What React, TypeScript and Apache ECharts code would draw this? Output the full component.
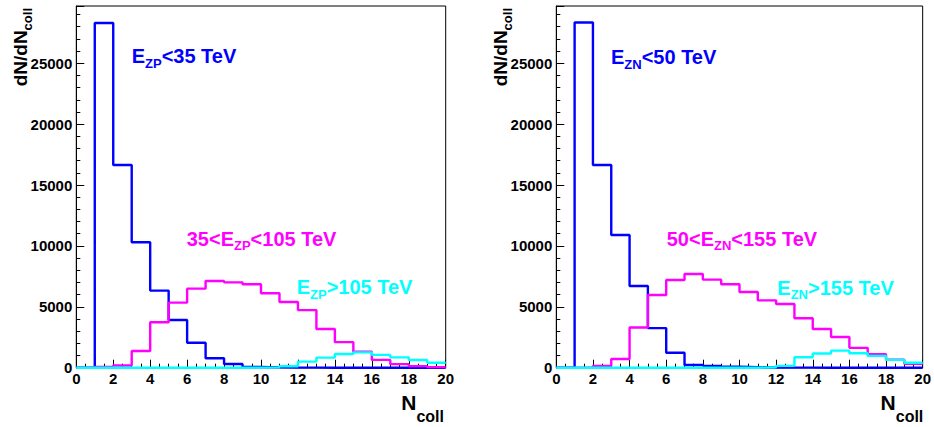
import React, { useEffect, useRef } from "react";
import * as echarts from "echarts";

// ---------- data ----------
const binLowEdges = [0, 1, 2, 3, 4, 5, 6, 7, 8, 9, 10, 11, 12, 13, 14, 15, 16, 17, 18, 19];
const xMax = 20;
const yMax = 29700;
const yTickLabels = [0, 5000, 10000, 15000, 20000, 25000];

// left panel (ZP)
const leftLow = [0, 28300, 16650, 10300, 6330, 3920, 2050, 780, 300, 60, 25, 10, 5, 0, 0, 0, 0, 0, 0, 0];
const leftMid = [0, 60, 180, 1370, 3730, 5340, 6490, 7120, 7010, 6850, 6110, 5390, 4730, 3180, 2100, 1310, 640, 290, 130, 50];
const leftHigh = [0, 0, 0, 0, 0, 0, 0, 0, 0, 10, 30, 120, 500, 830, 1120, 1260, 1050, 850, 630, 410];

// right panel (ZN)
const rightLow = [0, 28350, 16650, 10900, 6710, 3250, 1230, 220, 150, 90, 40, 20, 10, 5, 0, 0, 0, 0, 0, 0];
const rightMid = [0, 0, 150, 720, 3300, 5970, 7200, 7690, 7230, 6850, 6220, 5530, 5230, 4060, 3180, 2520, 1630, 1110, 650, 330];
const rightHigh = [0, 0, 0, 0, 0, 0, 0, 0, 0, 0, 0, 40, 150, 860, 1170, 1400, 1190, 970, 640, 410];

// labels: [before, subscript, after]
const leftNotes = [
  ["E", "ZP", "<35 TeV"],
  ["35<E", "ZP", "<105 TeV"],
  ["E", "ZP", ">105 TeV"],
];
const rightNotes = [
  ["E", "ZN", "<50 TeV"],
  ["50<E", "ZN", "<155 TeV"],
  ["E", "ZN", ">155 TeV"],
];
const colors = ["#0000ff", "#ff00ff", "#00ffff"];
const yTitle = ["dN/dN", "coll"];
const xTitle = ["N", "coll"];

// ---------- helpers ----------
const FF = '"Liberation Sans", Arial, Helvetica, sans-serif';

function toSteps(bins: number[]) {
  const pts = binLowEdges.map((x, i) => [x, bins[i]]);
  pts.push([xMax, bins[bins.length - 1]]);
  return pts;
}

function richText(color: string, mainSize: number, subSize: number, subBox: number) {
  return {
    m: { fontSize: mainSize, fontWeight: "bold", fontFamily: FF, fill: color, verticalAlign: "top", height: mainSize, lineHeight: mainSize },
    s: { fontSize: subSize, fontWeight: "bold", fontFamily: FF, fill: color, verticalAlign: "top", height: subBox, lineHeight: subBox },
  };
}

function note(parts: string[], color: string, x: number, y: number) {
  return {
    type: "text",
    x,
    y,
    silent: true,
    style: {
      text: `{m|${parts[0]}}{s|${parts[1]}}{m|${parts[2]}}`,
      align: "left",
      verticalAlign: "top",
      rich: richText(color, 20, 13, 33.6),
    },
  };
}

function App() {
  const ref = useRef<HTMLDivElement>(null);
  useEffect(() => {
    if (!ref.current) return;
    const chart = echarts.init(ref.current, null, { renderer: "svg" });

    const grids = [
      { left: 76.3, width: 369.4 },
      { left: 556.3, width: 368.7 },
    ];

    const xAxes = grids.map((_, i) => ({
      type: "value",
      gridIndex: i,
      min: 0,
      max: xMax,
      interval: 2,
      axisLine: { show: true, onZero: false, lineStyle: { color: "#000", width: 1 } },
      axisTick: { show: true, inside: true, length: 8, lineStyle: { color: "#000", width: 1 } },
      minorTick: { show: true, splitNumber: 4, length: 4, lineStyle: { color: "#000", width: 1 } },
      axisLabel: { color: "#000", fontSize: 15, fontWeight: "bold", fontFamily: FF, margin: 3 },
      splitLine: { show: false },
      minorSplitLine: { show: false },
    }));

    const yAxes: any[] = [];
    grids.forEach((_, i) => {
      yAxes.push({
        type: "value",
        gridIndex: i,
        position: "left",
        min: 0,
        max: yMax,
        interval: 1000,
        axisLine: { show: true, lineStyle: { color: "#000", width: 1 } },
        axisTick: { show: true, inside: true, length: 4, lineStyle: { color: "#000", width: 1 } },
        axisLabel: {
          color: "#000",
          fontSize: 15,
          fontWeight: "bold",
          fontFamily: FF,
          margin: 4,
          formatter: (v: number) => (yTickLabels.indexOf(v) >= 0 ? String(v) : ""),
        },
        splitLine: { show: false },
      });
      yAxes.push({
        type: "value",
        gridIndex: i,
        position: "left",
        min: 0,
        max: yMax,
        interval: 5000,
        axisLine: { show: false },
        axisTick: { show: true, inside: true, length: 8, lineStyle: { color: "#000", width: 1 } },
        axisLabel: { show: false },
        splitLine: { show: false },
      });
    });

    const panels = [
      [leftLow, leftMid, leftHigh],
      [rightLow, rightMid, rightHigh],
    ];
    const series: any[] = [];
    panels.forEach((sets, i) => {
      sets.forEach((bins, k) => {
        series.push({
          type: "line",
          xAxisIndex: i,
          yAxisIndex: 2 * i,
          step: "end",
          data: toSteps(bins),
          showSymbol: false,
          symbol: "none",
          silent: true,
          lineStyle: { color: colors[k], width: 2.4 },
          itemStyle: { color: colors[k] },
        });
      });
    });

    const graphic: any[] = [];
    const notePos = [
      [[131.7, 46.4], [186.7, 229.1], [296.7, 277.4]],
      [[611, 47.4], [666.7, 229.1], [777.3, 278.1]],
    ];
    [leftNotes, rightNotes].forEach((notes, i) => {
      notes.forEach((parts, k) => {
        graphic.push(note(parts, colors[k], notePos[i][k][0], notePos[i][k][1]));
      });
    });
    grids.forEach((g) => {
      // y title (rotated)
      graphic.push({
        type: "text",
        x: g.left - 65.7,
        y: 8,
        rotation: Math.PI / 2,
        silent: true,
        style: {
          text: `{m|${yTitle[0]}}{s|${yTitle[1]}}`,
          align: "right",
          verticalAlign: "top",
          rich: richText("#000", 19, 13, 34.6),
        },
      });
      // x title
      graphic.push({
        type: "text",
        x: g.left + g.width - 1.7,
        y: 392.2,
        silent: true,
        style: {
          text: `{m|${xTitle[0]}}{s|${xTitle[1]}}`,
          align: "right",
          verticalAlign: "top",
          rich: richText("#000", 21, 16, 48),
        },
      });
    });

    chart.setOption({
      animation: false,
      backgroundColor: "#fff",
      grid: grids.map((g) => ({
        left: g.left,
        top: 6,
        width: g.width,
        height: 361.7,
        show: true,
        borderColor: "#000",
        borderWidth: 1,
        backgroundColor: "#fff",
      })),
      xAxis: xAxes,
      yAxis: yAxes,
      series,
      graphic,
    });
    return () => chart.dispose();
  }, []);
  return <div ref={ref} style={{ position: "absolute", left: 0, top: 0, width: 934, height: 427 }} />;
}

export default App;
